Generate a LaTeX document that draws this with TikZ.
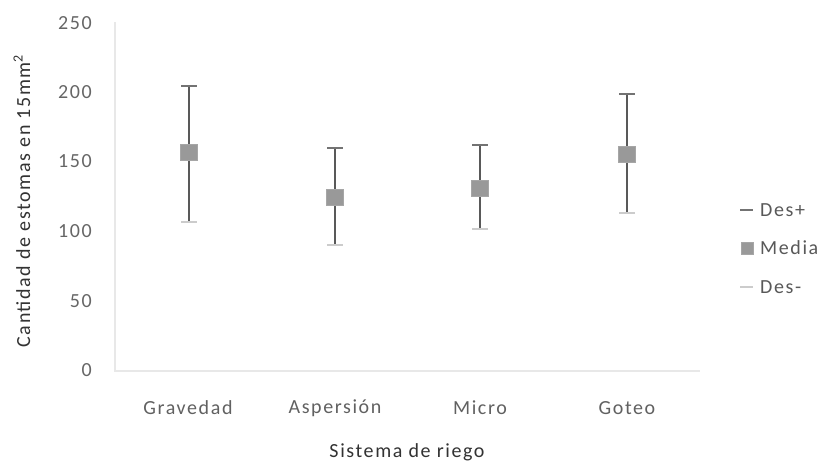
\documentclass[tikz,border=0pt]{standalone}
\usepackage{fontspec}
\setmainfont{Carlito}[LetterSpace=8.0]
\begin{document}
\begin{tikzpicture}[x=1pt,y=-1pt,
  ticklab/.style={anchor=east,font=\fontsize{20}{21}\selectfont,text=black!60,inner sep=0pt},
  catlab/.style={anchor=center,font=\fontsize{20}{21}\selectfont,text=black!62,inner sep=0pt},
  axtitle/.style={anchor=center,font=\fontsize{20}{21}\selectfont,text=black!80,inner sep=0pt},
  axisline/.style={draw=black!9,line width=1.2pt},
  hiloline/.style={draw=black!65,line width=1.6pt},
  capplus/.style={draw=black!55,line width=1.4pt},
  capminus/.style={draw=black!20,line width=1.4pt},
  meanbox/.style={draw=black!35,fill=black!40,minimum width=17pt,minimum height=16pt,inner sep=0pt,line width=0.6pt},
  legtext/.style={anchor=west,font=\fontsize{20}{21}\selectfont,text=black!65,inner sep=0pt},
  legbox/.style={draw=black!35,fill=black!40,minimum width=12pt,minimum height=12pt,inner sep=0pt}]
\useasboundingbox[fill=white] (0,0) rectangle (822,461);
% axes
\coordinate (o) at (115,371);
\coordinate (ytop) at (115,22);
\coordinate (xend) at (700,371);
\draw[axisline] (ytop) -- (o) -- (xend);
% y tick labels
\node[ticklab] (t0) at (92,370) {0};
\node[ticklab] (t50) at (92,301) {50};
\node[ticklab] (t100) at (92,231) {100};
\node[ticklab] (t150) at (92,161) {150};
\node[ticklab] (t200) at (92,92) {200};
\node[ticklab] (t250) at (92,23) {250};
% y axis title
\node[axtitle,rotate=90] (ytitle) at (22,201) {Cantidad de estomas en 15mm\textsuperscript{2}};
% category labels
\node[catlab] (c1) at (188,408) {Gravedad};
\node[catlab] (c2) at (335,408) {Aspersión};
\node[catlab] (c3) at (480,408) {Micro};
\node[catlab] (c4) at (627,408) {Goteo};
\node[axtitle] (xtitle) at (407,452) {Sistema de riego};
% Gravedad
\coordinate (gT) at (189,86); \coordinate (gB) at (189,222);
\draw[hiloline] (gT) -- (gB);
\draw[capplus] ([xshift=-8pt]gT) -- ([xshift=8pt]gT);
\draw[capminus] ([xshift=-8pt]gB) -- ([xshift=8pt]gB);
\node[meanbox] (gM) at (189,152) {};
% Aspersion
\coordinate (aT) at (335,148); \coordinate (aB) at (335,245);
\draw[hiloline] (aT) -- (aB);
\draw[capplus] ([xshift=-8pt]aT) -- ([xshift=8pt]aT);
\draw[capminus] ([xshift=-8pt]aB) -- ([xshift=8pt]aB);
\node[meanbox] (aM) at (335,197) {};
% Micro
\coordinate (mT) at (480,145); \coordinate (mB) at (480,229);
\draw[hiloline] (mT) -- (mB);
\draw[capplus] ([xshift=-8pt]mT) -- ([xshift=8pt]mT);
\draw[capminus] ([xshift=-8pt]mB) -- ([xshift=8pt]mB);
\node[meanbox] (mM) at (480,188) {};
% Goteo
\coordinate (oT) at (627,94); \coordinate (oB) at (627,213);
\draw[hiloline] (oT) -- (oB);
\draw[capplus] ([xshift=-8pt]oT) -- ([xshift=8pt]oT);
\draw[capminus] ([xshift=-8pt]oB) -- ([xshift=8pt]oB);
\node[meanbox] (oM) at (627,154) {};
% legend
\coordinate (l1a) at (740,210); \coordinate (l1b) at (753,210);
\draw[capplus] (l1a) -- (l1b);
\node[legtext] (l1) at (760,210) {Des+};
\node[legbox] (l2m) at (747,248) {};
\node[legtext] (l2) at (760,248) {Media};
\coordinate (l3a) at (740,287); \coordinate (l3b) at (753,287);
\draw[capminus] (l3a) -- (l3b);
\node[legtext] (l3) at (760,287) {Des-};
\end{tikzpicture}
\end{document}
